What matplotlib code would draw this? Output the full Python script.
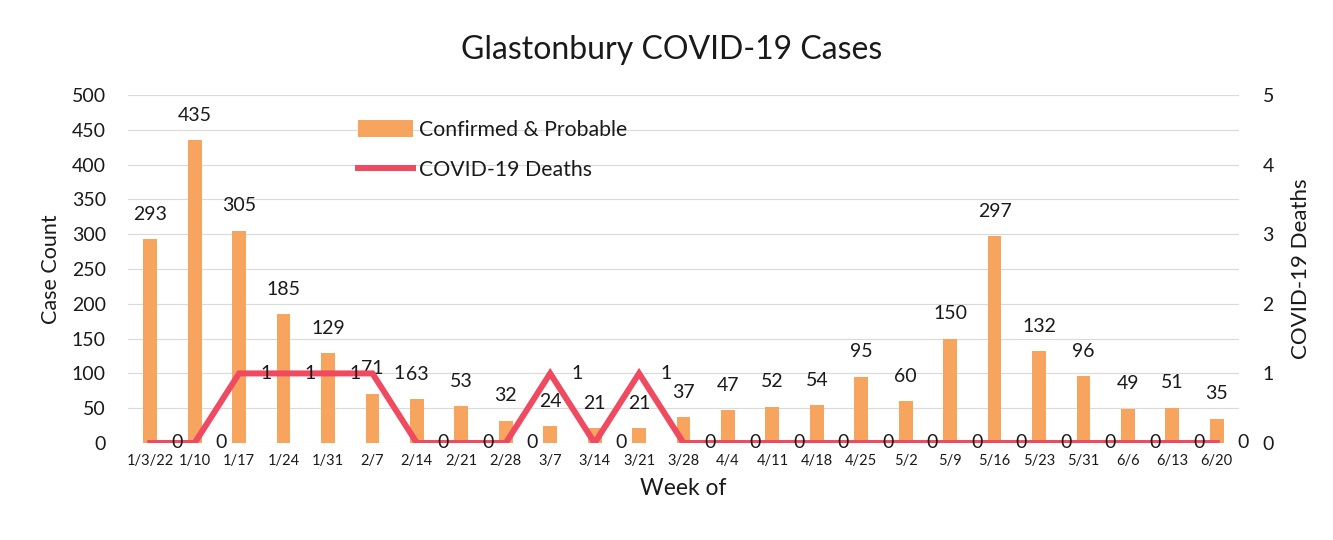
import matplotlib
matplotlib.use("Agg")
import matplotlib.pyplot as plt
from matplotlib.patches import Patch
from matplotlib.lines import Line2D

weeks = ["1/3/22", "1/10", "1/17", "1/24", "1/31", "2/7", "2/14", "2/21", "2/28",
         "3/7", "3/14", "3/21", "3/28", "4/4", "4/11", "4/18", "4/25", "5/2",
         "5/9", "5/16", "5/23", "5/31", "6/6", "6/13", "6/20"]
cases = [293, 435, 305, 185, 129, 71, 63, 53, 32, 24, 21, 21, 37, 47, 52, 54,
         95, 60, 150, 297, 132, 96, 49, 51, 35]
deaths = [0, 0, 1, 1, 1, 1, 0, 0, 0, 1, 0, 1, 0, 0, 0, 0, 0, 0, 0, 0, 0, 0, 0, 0, 0]

plt.rcParams['font.family'] = ['Lato', 'DejaVu Sans']

BAR = "#F6A45E"
LINE = "#EF4A5F"
TXT = "#1a1a1a"

fig = plt.figure(figsize=(13.33, 5.40), dpi=100)
ax = fig.add_axes([128/1333, (540-443)/540, (1239-128)/1333, (443-95)/540])
ax2 = ax.twinx()

x = list(range(len(weeks)))
ax.bar(x, cases, width=0.31, color=BAR, zorder=2)
ax.set_ylim(0, 500)
ax.set_xlim(-0.5, len(weeks) - 0.5)
ax.set_yticks(range(0, 501, 50))
ax.set_xticks(x)
ax.set_xticklabels(weeks, fontsize=10.5, color=TXT)
ax.tick_params(axis='x', length=0, pad=8)
ax.tick_params(axis='y', length=0, pad=16, labelsize=14, labelcolor=TXT)
ax.grid(axis='y', color="#DADADA", linewidth=0.8, zorder=0)
ax.set_axisbelow(True)
for s in ax.spines.values():
    s.set_visible(False)

for xi, v in zip(x, cases):
    ax.annotate(str(v), (xi, v), xytext=(0, 18), textcoords='offset points',
                ha='center', va='center', fontsize=14, color=TXT)

ax2.plot(x, deaths, color=LINE, linewidth=4.3, solid_joinstyle='miter', zorder=3)
ax2.set_ylim(0, 5)
ax2.set_yticks(range(0, 6))
ax2.tick_params(axis='y', which='both', length=0, pad=17, labelsize=14,
                labelcolor=TXT, right=True, labelright=True)
for s in ax2.spines.values():
    s.set_visible(False)
for xi, v in zip(x, deaths):
    ax2.text(xi + 0.6, v, str(v), ha='center', va='center', fontsize=14,
             color=TXT, clip_on=False)

ax.set_ylabel("Case Count", fontsize=15.5, color=TXT, labelpad=8)
ax2.set_ylabel("COVID-19 Deaths", fontsize=16, color=TXT, labelpad=12)
ax.set_xlabel("Week of", fontsize=16.5, color=TXT, labelpad=7)

fig.text(672/1333, 1 - 50/540, "Glastonbury COVID-19 Cases", ha='center', va='center',
         fontsize=23, color=TXT)

handles = [Patch(facecolor=BAR, edgecolor='none'),
           Line2D([0], [0], color=LINE, linewidth=4.3)]
leg = ax.legend(handles, ["Confirmed & Probable", "COVID-19 Deaths"],
                loc='upper left', bbox_to_anchor=((358-128)/1111, (443-120)/348),
                frameon=False, fontsize=15.3, handlelength=2.6, handleheight=0.8,
                handletextpad=0.25, labelspacing=0.95, borderpad=0, borderaxespad=0)
for t in leg.get_texts():
    t.set_color(TXT)

fig.savefig("out.png", dpi=100, facecolor='white')
